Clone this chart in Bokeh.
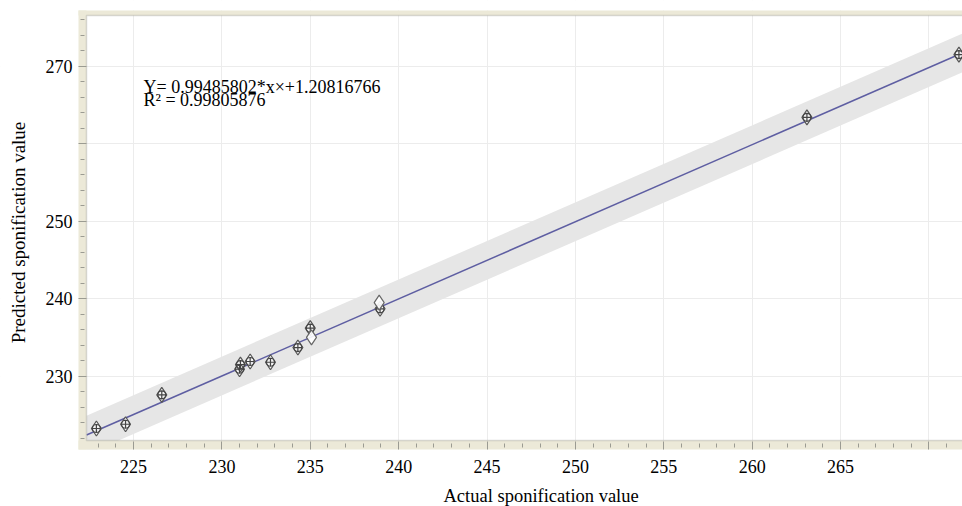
import math
from bokeh.plotting import figure
from bokeh.models import BoxAnnotation, Label, FixedTicker
from bokeh.embed import file_html
from bokeh.resources import INLINE

# ---- data ----
actual = [222.9, 224.55, 226.6, 231.0, 231.05, 231.6, 232.75, 234.3, 235.0, 238.95, 263.1, 271.7]
predicted = [223.25, 223.8, 227.6, 230.9, 231.5, 231.9, 231.8, 233.7, 236.2, 238.7, 263.4, 271.5]
actual_open = [235.07, 238.9]
predicted_open = [235.0, 239.5]
fit_slope = 0.99485802
fit_intercept = 1.20816766
band_half = 2.5
x_ticks = [225, 230, 235, 240, 245, 250, 255, 260, 265, 270]
x_tick_text = {270: ""}
x_minor = list(range(223, 273))
y_ticks = [230, 240, 250, 260, 270]
y_minor = list(range(222, 278, 2))
y_tick_text = {230: "230", 240: "240", 250: "250", 260: "", 270: "270"}
eq_text = "Y=  0.99485802*x\u00d7+1.20816766"
r2_text = "R\u00b2 = 0.99805876"
x_title = "Actual sponification value"
y_title = "Predicted sponification value"

# scale: 225 -> px 133, 17.675 px/unit ; 270 -> px 65.7, 7.75 px/unit
xpx = 17.675
ypx = 7.75
def xv(px):
    return 225 + (px - 133) / xpx
def yv(py):
    return 270 - (py - 65.7) / ypx

W, H = 962, 506
OL, OT, OB = 78, 10, 449          # outer edges of the beige strips
IL, IT, IB = 86, 15, 440          # inner plot box edges

FONT = "Liberation Serif"
BEIGE = "#ECE9D8"
TICK = "#9b9b92"

p = figure(width=W, height=H, x_range=(xv(0), xv(W)), y_range=(yv(H), yv(0)),
           output_backend="svg", toolbar_location=None, min_border=0)
p.title.visible = False
p.background_fill_color = "white"
p.border_fill_color = "white"
p.outline_line_color = None

# grid
p.xgrid.ticker = FixedTicker(ticks=x_ticks)
p.ygrid.ticker = FixedTicker(ticks=y_ticks)
p.xgrid.grid_line_color = "#ececec"
p.ygrid.grid_line_color = "#ececec"

# confidence band and fit line
xs = [xv(IL), xv(W)]
fit = [fit_slope * v + fit_intercept for v in xs]
p.varea(x=xs, y1=[f - band_half for f in fit], y2=[f + band_half for f in fit],
        fill_color="#e6e6e6", fill_alpha=1)
p.line(x=xs, y=fit, line_color="#5e5ea2", line_width=1.5)

# points
p.scatter(actual, predicted, marker="diamond", size=15, fill_color="#f4f4f4", fill_alpha=0.9,
          line_color="#555555", line_width=1.2)
p.scatter(actual, predicted, marker="circle_cross", size=8, fill_color=None,
          line_color="#444444", line_width=1.2)
p.scatter(actual_open, predicted_open, marker="diamond", size=15, fill_color="white", fill_alpha=0.9,
          line_color="#666666", line_width=1.2)

def box(l, r, b, t, fill, line=None, lw=1):
    p.add_layout(BoxAnnotation(left=l, right=r, bottom=b, top=t, fill_color=fill,
                               fill_alpha=1 if fill else 0, line_color=line, line_width=lw))

# white margins outside the chart box
box(xv(0) - 1, xv(OL), yv(H) - 1, yv(0) + 1, "white")
box(xv(0) - 1, xv(W) + 1, yv(H) - 1, yv(OB), "white")
box(xv(0) - 1, xv(W) + 1, yv(OT), yv(0) + 1, "white")
# beige strips
box(xv(OL), xv(IL), yv(OB), yv(OT), BEIGE)
box(xv(OL), xv(W) + 1, yv(IT), yv(OT), BEIGE)
box(xv(OL), xv(W) + 1, yv(OB), yv(IB), BEIGE)
# inner plot box outline
box(xv(IL), xv(W) + 5, yv(IB), yv(IT), None, "#8c8c84", 1.5)

# axes fixed at the outer edges of the strips
xa = p.xaxis[0]
xa.fixed_location = yv(OB)
xa.level = "overlay"
xa.ticker = FixedTicker(ticks=x_ticks, minor_ticks=x_minor)
xa.major_label_overrides = x_tick_text
xa.axis_line_color = None
xa.major_tick_line_color = TICK
xa.minor_tick_line_color = TICK
xa.major_tick_in = 8
xa.major_tick_out = 0
xa.minor_tick_in = 6
xa.minor_tick_out = -2
xa.major_label_standoff = 10
xa.major_label_text_font = FONT
xa.major_label_text_font_size = "18px"
xa.major_label_text_color = "black"

ya = p.yaxis[0]
ya.fixed_location = xv(OL)
ya.level = "overlay"
ya.ticker = FixedTicker(ticks=y_ticks, minor_ticks=y_minor)
ya.major_label_overrides = y_tick_text
ya.axis_line_color = None
ya.major_tick_line_color = TICK
ya.minor_tick_line_color = TICK
ya.major_tick_in = 8
ya.major_tick_out = 0
ya.minor_tick_in = 6
ya.minor_tick_out = -2
ya.major_label_standoff = 6
ya.major_label_text_font = FONT
ya.major_label_text_font_size = "18px"
ya.major_label_text_color = "black"

def label(x, y, text, size, **kw):
    p.add_layout(Label(x=x, y=y, text=text, text_font=FONT, text_font_size=size,
                       text_color="black", level="overlay", **kw))

label(xv(443), yv(495), x_title, "18.5px", text_baseline="alphabetic")
label(xv(17.5), yv(232), y_title, "19px", angle=math.pi / 2,
      text_align="center", text_baseline="alphabetic")
label(xv(143), yv(86.3), eq_text, "18px", text_baseline="alphabetic")
label(xv(143), yv(99.7), r2_text, "18px", text_baseline="alphabetic")

open("out.html", "w").write(file_html(p, INLINE))
